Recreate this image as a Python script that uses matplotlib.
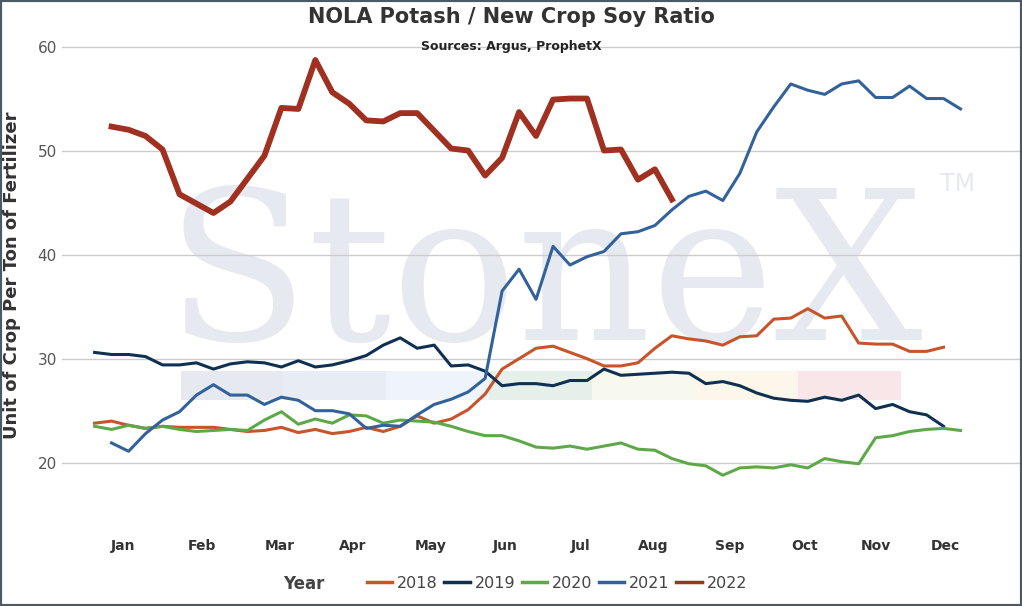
import numpy as np
import matplotlib
matplotlib.use('Agg')
import matplotlib.pyplot as plt
from matplotlib.lines import Line2D

# weekly ratios, index = week of year (0-based)
y2018 = [23.8, 24.0, 23.6, 23.3, 23.5, 23.4, 23.4, 23.4, 23.2, 23.0, 23.1, 23.4, 22.9, 23.2, 22.8,
         23.0, 23.4, 23.0, 23.5, 24.5, 23.8, 24.2, 25.1, 26.6, 29.0, 30.0, 31.0, 31.2, 30.6, 30.0,
         29.3, 29.3, 29.6, 31.0, 32.2, 31.9, 31.7, 31.3, 32.1, 32.2, 33.8, 33.9, 34.8, 33.9, 34.1,
         31.5, 31.4, 31.4, 30.7, 30.7, 31.1]
y2019 = [30.6, 30.4, 30.4, 30.2, 29.4, 29.4, 29.6, 29.0, 29.5, 29.7, 29.6, 29.2, 29.8, 29.2, 29.4,
         29.8, 30.3, 31.3, 32.0, 31.0, 31.3, 29.3, 29.4, 28.8, 27.4, 27.6, 27.6, 27.4, 27.9, 27.9,
         29.0, 28.4, 28.5, 28.6, 28.7, 28.6, 27.6, 27.8, 27.4, 26.7, 26.2, 26.0, 25.9, 26.3, 26.0,
         26.5, 25.2, 25.6, 24.9, 24.6, 23.5]
y2020 = [23.5, 23.2, 23.6, 23.3, 23.5, 23.2, 23.0, 23.1, 23.2, 23.1, 24.1, 24.9, 23.7, 24.2, 23.8,
         24.6, 24.5, 23.8, 24.1, 24.0, 23.9, 23.5, 23.0, 22.6, 22.6, 22.1, 21.5, 21.4, 21.6, 21.3,
         21.6, 21.9, 21.3, 21.2, 20.4, 19.9, 19.7, 18.8, 19.5, 19.6, 19.5, 19.8, 19.5, 20.4, 20.1,
         19.9, 22.4, 22.6, 23.0, 23.2, 23.3, 23.1]
y2021 = [21.9, 21.1, 22.8, 24.1, 24.9, 26.5, 27.5, 26.5, 26.5, 25.6, 26.3, 26.0, 25.0, 25.0, 24.7,
         23.3, 23.6, 23.5, 24.6, 25.6, 26.1, 26.8, 28.1, 36.5, 38.6, 35.7, 40.8, 39.0, 39.8, 40.3,
         42.0, 42.2, 42.8, 44.3, 45.6, 46.1, 45.2, 47.8, 51.8, 54.2, 56.4, 55.8, 55.4, 56.4, 56.7,
         55.1, 55.1, 56.2, 55.0, 55.0, 54.0]
y2022 = [52.3, 52.0, 51.4, 50.1, 45.8, 44.9, 44.0, 45.1, 47.3, 49.5, 54.1, 54.0, 58.7, 55.6, 54.5,
         52.9, 52.8, 53.6, 53.6, 51.9, 50.2, 50.0, 47.6, 49.3, 53.7, 51.4, 54.9, 55.0, 55.0, 50.0,
         50.1, 47.2, 48.2, 45.3]

months = ['Jan', 'Feb', 'Mar', 'Apr', 'May', 'Jun', 'Jul', 'Aug', 'Sep', 'Oct', 'Nov', 'Dec']
month_pos = [1.7, 6.3, 10.9, 15.2, 19.8, 24.2, 28.6, 32.9, 37.4, 41.8, 46.0, 50.1]

band_colors = ['#e6e9ef', '#e8edf5', '#eef4fa', '#e6f0ea', '#f8f9ee', '#fdf6ea', '#f8e6e8']

series = [
    ('2018', y2018, 0, '#c8542a', 2.2),
    ('2019', y2019, 0, '#0f3050', 2.2),
    ('2020', y2020, 0, '#5fa84a', 2.2),
    ('2021', y2021, 1, '#33629a', 2.2),
    ('2022', y2022, 1, '#a03020', 4.2),
]

fig = plt.figure(figsize=(10.22, 6.06), dpi=100)
ax = fig.add_axes([0.061, 0.142, 0.937, 0.807])

# faded watermark + coloured band
ax.text(26.5, 37.3, 'StoneX', fontsize=150, family='DejaVu Serif', color='#e6e9ef',
        ha='center', va='center', zorder=0)
ax.text(50.8, 46.8, 'TM', fontsize=17, color='#e6e9ef', ha='center', va='center', zorder=0)
for i, c in enumerate(band_colors):
    ax.fill_between([5.06 + 6.06 * i, 5.06 + 6.06 * (i + 1)], 26.0, 28.8, color=c, lw=0, zorder=0.5)

for name, vals, start, col, lw in series:
    x = np.arange(start, start + len(vals))
    ax.plot(x, vals, color=col, lw=lw, zorder=3)

ax.set_xlim(-1.9, 54.5)
ax.set_ylim(14.5, 61.5)
ax.set_yticks([20, 30, 40, 50, 60])
ax.tick_params(axis='y', length=0, labelsize=11, labelcolor='#555555', pad=4)
ax.set_xticks(month_pos)
ax.set_xticklabels(months, fontsize=10, fontweight='bold', color='#333333')
ax.tick_params(axis='x', length=0, pad=14)
ax.grid(axis='y', color='#cccccc', lw=1)
for s in ax.spines.values():
    s.set_visible(False)
ax.set_ylabel('Unit of Crop Per Ton of Fertilizer', fontsize=13, fontweight='bold',
              color='#333333', labelpad=12)

fig.text(0.5, 0.972, 'NOLA Potash / New Crop Soy Ratio', ha='center', va='center',
         fontsize=15, fontweight='bold', color='#333333')
fig.text(0.5, 0.924, 'Sources: Argus, ProphetX', ha='center', va='center',
         fontsize=9, fontweight='bold', color='#222222')

handles = [Line2D([], [], color=c, lw=2.5) for _, _, _, c, _ in series]
leg = fig.legend(handles, [s[0] for s in series], loc='center', bbox_to_anchor=(0.545, 0.037),
                 ncol=5, frameon=False, handlelength=1.6, handletextpad=0.3,
                 columnspacing=0.4, fontsize=11.5)
for t in leg.get_texts():
    t.set_color('#444444')
fig.text(0.318, 0.037, 'Year', ha='right', va='center', fontsize=12, fontweight='bold',
         color='#444444')

border = plt.Rectangle((0, 0), 1, 1, transform=fig.transFigure, fill=False,
                       ec='#4a5a66', lw=3)
fig.patches.append(border)

fig.savefig('out.png', dpi=100)
